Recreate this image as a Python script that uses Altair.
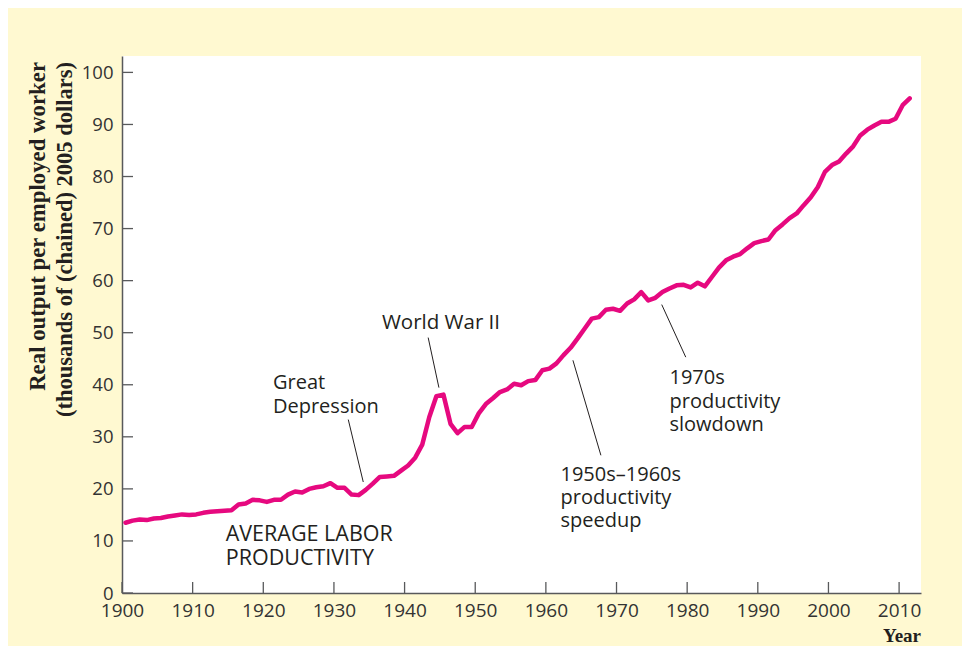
import altair as alt
import pandas as pd

# ---- data ----
years = list(range(1900, 2012))
productivity = [
    13.5, 13.9, 14.1, 14.0, 14.3, 14.4, 14.7, 14.9, 15.1, 15.0,   # 1900s
    15.1, 15.4, 15.6, 15.7, 15.8, 15.9, 17.0, 17.2, 17.9, 17.8,   # 1910s
    17.5, 17.9, 17.9, 18.9, 19.5, 19.3, 20.0, 20.3, 20.5, 21.1,   # 1920s
    20.2, 20.2, 18.9, 18.8, 19.8, 21.0, 22.3, 22.4, 22.5, 23.5,   # 1930s
    24.5, 26.0, 28.5, 33.8, 37.8, 38.1, 32.5, 30.7, 31.9, 31.9,   # 1940s
    34.5, 36.3, 37.4, 38.6, 39.1, 40.2, 39.9, 40.7, 40.9, 42.8,   # 1950s
    43.1, 44.1, 45.7, 47.1, 48.9, 50.8, 52.7, 53.0, 54.4, 54.6,   # 1960s
    54.2, 55.6, 56.4, 57.8, 56.2, 56.7, 57.8, 58.5, 59.1, 59.2,   # 1970s
    58.7, 59.6, 58.9, 60.7, 62.5, 63.9, 64.6, 65.1, 66.2, 67.2,   # 1980s
    67.6, 67.9, 69.7, 70.8, 72.0, 72.9, 74.5, 76.0, 78.0, 80.9,   # 1990s
    82.2, 82.9, 84.4, 85.8, 87.9, 89.0, 89.8, 90.5, 90.5, 91.1,   # 2000s
    93.7, 95.0,                                                   # 2010-2011
]
x_ticks = list(range(1900, 2011, 10))
y_ticks = list(range(0, 101, 10))

# annotation labels
ann_text = ["World War II", "Great", "Depression",
            "1950s\u20131960s", "productivity", "speedup",
            "1970s", "productivity", "slowdown"]
ann_year = [1945.15, 1921.37, 1921.37,
            1962.07, 1962.07, 1962.07, 1977.5, 1977.5, 1977.5]
ann_value = [50.8, 39.1, 34.5, 21.6, 17.0, 12.6, 40.1, 35.5, 31.1]
ann_align = ["center", "left", "left", "left", "left", "left", "left", "left", "left"]

caps_text = ["AVERAGE LABOR", "PRODUCTIVITY"]
caps_year = [1914.68, 1914.68]
caps_value = [9.9, 5.3]

# leader lines
lead_x1 = [1943.34, 1932.03, 1963.83, 1976.4]
lead_y1 = [49.06, 33.31, 44.70, 55.4]
lead_x2 = [1944.86, 1934.15, 1967.79, 1979.8]
lead_y2 = [39.45, 21.32, 26.45, 45.3]

SANS = "Open Sans"
SERIF = "Liberation Serif"
INK = "#231F20"
AXIS = "#58595B"
MAGENTA = "#E6097F"

df = pd.DataFrame({"year": years, "value": productivity})
ann = pd.DataFrame({"text": ann_text, "year": ann_year, "value": ann_value, "align": ann_align})
caps = pd.DataFrame({"text": caps_text, "year": caps_year, "value": caps_value})
lead = pd.DataFrame({"x1": lead_x1, "y1": lead_y1, "x2": lead_x2, "y2": lead_y2})

W, H = 799, 537
xs = alt.Scale(domain=[1900, 2013.1], nice=False, zero=False)
ys = alt.Scale(domain=[0, 103.15], nice=False, zero=True)

x_axis = alt.Axis(
    values=x_ticks, format="d", title=None, grid=False, ticks=False, tickSize=0,
    labelFont=SANS, labelFontSize=19, labelColor="#333333", labelPadding=8,
    labelFlush=False, labelOverlap=False, domainColor=AXIS, domainWidth=1.5)
y_axis = alt.Axis(
    values=y_ticks, title=None, grid=False, ticks=False, tickSize=0,
    labelFont=SANS, labelFontSize=18.5, labelColor="#333333", labelPadding=9,
    labelFlush=False, labelOverlap=False, domainColor=AXIS, domainWidth=1.5)

line = alt.Chart(df).transform_calculate(
    mid="datum.year + 0.5"
).mark_line(color=MAGENTA, strokeWidth=4.5, strokeJoin="round", strokeCap="round").encode(
    x=alt.X("mid:Q", scale=xs, axis=x_axis),
    y=alt.Y("value:Q", scale=ys, axis=y_axis),
)

xtick_df = pd.DataFrame({"t": x_ticks})
ytick_df = pd.DataFrame({"t": y_ticks})
xtick_rules = alt.Chart(xtick_df).mark_rule(color=AXIS, strokeWidth=1.3).encode(
    x=alt.X("t:Q", scale=xs, axis=x_axis), y=alt.value(H), y2=alt.value(H - 11))
ytick_rules = alt.Chart(ytick_df).mark_rule(color=AXIS, strokeWidth=1.3).encode(
    y=alt.Y("t:Q", scale=ys, axis=y_axis), x=alt.value(0), x2=alt.value(11))

leaders = alt.Chart(lead).mark_rule(color=INK, strokeWidth=1).encode(
    x=alt.X("x1:Q", scale=xs, axis=x_axis), y=alt.Y("y1:Q", scale=ys, axis=y_axis),
    x2="x2:Q", y2="y2:Q")

labels_c = alt.Chart(ann[ann["align"] == "center"]).mark_text(
    font=SANS, fontSize=20.5, color=INK, align="center", baseline="alphabetic").encode(
    x=alt.X("year:Q", scale=xs, axis=x_axis), y=alt.Y("value:Q", scale=ys, axis=y_axis), text="text:N")
labels_l = alt.Chart(ann[ann["align"] == "left"]).mark_text(
    font=SANS, fontSize=20, color=INK, align="left", baseline="alphabetic").encode(
    x=alt.X("year:Q", scale=xs, axis=x_axis), y=alt.Y("value:Q", scale=ys, axis=y_axis), text="text:N")
labels_caps = alt.Chart(caps).mark_text(
    font=SANS, fontSize=21.5, color=INK, align="left", baseline="alphabetic").encode(
    x=alt.X("year:Q", scale=xs, axis=x_axis), y=alt.Y("value:Q", scale=ys, axis=y_axis), text="text:N")

ytitle1 = alt.Chart(pd.DataFrame({"t": ["Real output per employed worker"]})).mark_text(
    font=SERIF, fontWeight="bold", fontSize=22.8, color=INK, angle=270,
    align="right", baseline="middle").encode(x=alt.value(-84), y=alt.value(6), text="t:N")
ytitle2 = alt.Chart(pd.DataFrame({"t": ["(thousands of (chained) 2005 dollars)"]})).mark_text(
    font=SERIF, fontWeight="bold", fontSize=22.5, color=INK, angle=270,
    align="right", baseline="middle").encode(x=alt.value(-57), y=alt.value(6), text="t:N")
xtitle = alt.Chart(pd.DataFrame({"t": ["Year"]})).mark_text(
    font=SERIF, fontWeight="bold", fontSize=19, color=INK,
    align="right", baseline="alphabetic").encode(x=alt.value(W), y=alt.value(586), text="t:N")

chart = alt.layer(
    line, xtick_rules, ytick_rules, leaders, labels_c, labels_l, labels_caps,
    ytitle1, ytitle2, xtitle
).properties(
    width=W, height=H,
    background="#FFF9D1",
    autosize=alt.AutoSizeParams(type="none"),
    padding={"left": 114, "top": 48, "right": 41, "bottom": 53},
).configure_view(fill="white", stroke="transparent", strokeWidth=0)

chart.save("out.html", embed_options={"renderer": "svg", "actions": False})
